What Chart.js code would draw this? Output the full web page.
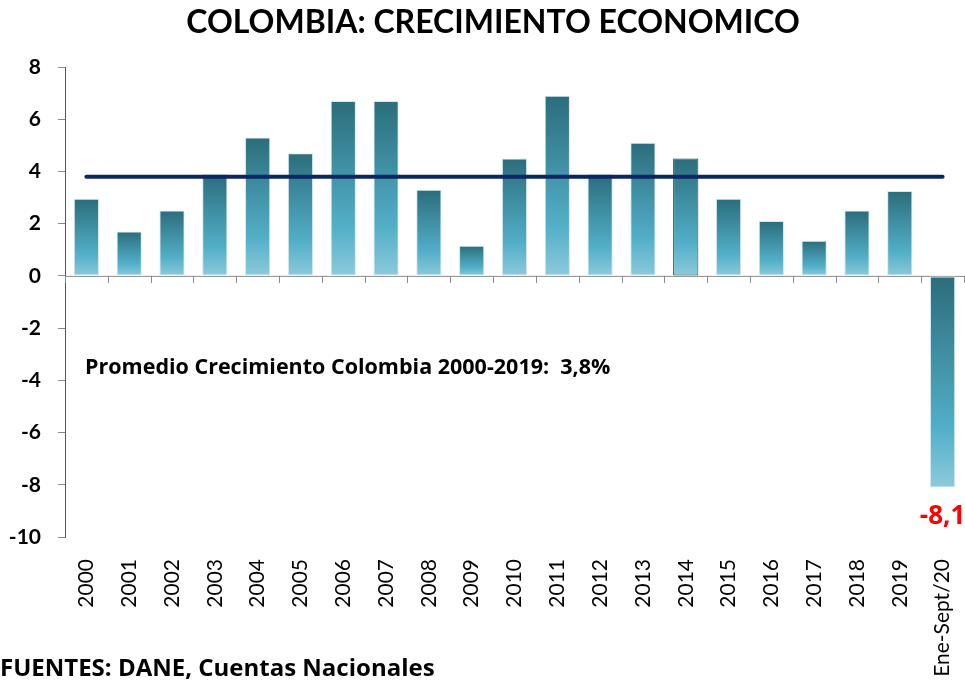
<!DOCTYPE html>
<html lang="es">
<head>
  <meta charset="UTF-8">
  <title>Colombia: Crecimiento Economico</title>
  <script src="https://cdn.jsdelivr.net/npm/chart.js"></script>
  <style>
    body { margin: 0; background: #fff; }
    #wrap { width: 965px; height: 681px; position: relative; }
  </style>
</head>
<body>
  <div id="wrap"><canvas id="grafico"></canvas></div>

  <script>
    // Datos
    const anios = ['2000', '2001', '2002', '2003', '2004', '2005', '2006', '2007', '2008', '2009',
                   '2010', '2011', '2012', '2013', '2014', '2015', '2016', '2017', '2018', '2019', 'Ene-Sept/20'];
    const crecimiento = [2.95, 1.7, 2.5, 3.9, 5.3, 4.7, 6.7, 6.7, 3.3, 1.15,
                         4.5, 6.9, 3.9, 5.1, 4.5, 2.95, 2.1, 1.35, 2.5, 3.25, -8.1];
    const promedio = [3.8, 3.8, 3.8, 3.8, 3.8, 3.8, 3.8, 3.8, 3.8, 3.8,
                      3.8, 3.8, 3.8, 3.8, 3.8, 3.8, 3.8, 3.8, 3.8, 3.8, 3.8];
    const ticksY = [8, 6, 4, 2, 0, -2, -4, -6, -8, -10];

    const fuente = 'Lato, "Open Sans", sans-serif';
    const fuenteNotas = '"Open Sans", Lato, sans-serif';

    // degradado vertical por barra (oscuro arriba, claro abajo)
    function rellenoBarra(ctx) {
      const chart = ctx.chart;
      const y = chart.scales.y;
      if (!y || ctx.raw === undefined) return '#4a9fb5';
      const p0 = y.getPixelForValue(0);
      const p1 = y.getPixelForValue(ctx.raw);
      const arriba = Math.min(p0, p1), abajo = Math.max(p0, p1);
      if (!isFinite(arriba) || abajo - arriba < 1) return '#4a9fb5';
      const g = chart.ctx.createLinearGradient(0, arriba, 0, abajo);
      g.addColorStop(0, '#2b6d7b');
      g.addColorStop(0.72, '#52afc8');
      g.addColorStop(1, '#8ccadb');
      return g;
    }

    // titulo, eje en cero con marcas, textos sueltos
    const extras = {
      id: 'extras',
      beforeDatasetsDraw(chart) {
        const c = chart.ctx, x = chart.scales.x, y = chart.scales.y;
        const y0 = y.getPixelForValue(0);
        const paso = x.getPixelForValue(1) - x.getPixelForValue(0);
        c.save();
        c.strokeStyle = '#8a8a8a';
        c.lineWidth = 1;
        c.beginPath();
        c.moveTo(chart.chartArea.left, y0 + 0.5);
        c.lineTo(chart.chartArea.right, y0 + 0.5);
        for (let i = 0; i <= anios.length; i++) {
          const px = Math.round(x.getPixelForValue(0) - paso / 2 + i * paso) + 0.5;
          c.moveTo(px, y0);
          c.lineTo(px, y0 + 7);
        }
        c.stroke();
        c.restore();
      },
      afterDraw(chart) {
        const c = chart.ctx, y = chart.scales.y;
        c.save();
        c.fillStyle = '#000';
        c.textBaseline = 'middle';
        c.textAlign = 'center';
        c.font = 'bold 32px ' + fuente;
        c.fillText('COLOMBIA: CRECIMIENTO ECONOMICO', 493, 23);

        c.textAlign = 'left';
        c.font = 'bold 21.5px ' + fuenteNotas;
        c.fillText('Promedio Crecimiento Colombia 2000-2019:  3,8%', chart.chartArea.left + 20, y.getPixelForValue(-3.52));

        const ultima = chart.getDatasetMeta(1).data[anios.length - 1];
        c.fillStyle = '#ff0000';
        c.textAlign = 'center';
        c.font = 'bold 26px ' + fuenteNotas;
        c.fillText('-8,1', ultima.x, ultima.y + 29);

        c.fillStyle = '#000';
        c.textAlign = 'left';
        c.font = 'bold 24px ' + fuenteNotas;
        c.fillText('FUENTES: DANE, Cuentas Nacionales', 0, 669);
        c.restore();
      }
    };

    new Chart(document.getElementById('grafico'), {
      data: {
        labels: anios,
        datasets: [
          {
            type: 'line',
            label: 'Promedio 2000-2019',
            data: promedio,
            borderColor: '#0b2663',
            borderWidth: 4,
            pointRadius: 0,
            borderCapStyle: 'round',
            order: 0
          },
          {
            type: 'bar',
            label: 'Crecimiento PIB',
            data: crecimiento,
            backgroundColor: rellenoBarra,
            borderColor: anios.map(a => a === '2014' ? '#1c4e5b' : '#d3eaf1'),
            borderWidth: 1,
            borderSkipped: false,
            barPercentage: 0.59,
            categoryPercentage: 1,
            order: 1
          }
        ]
      },
      options: {
        responsive: true,
        maintainAspectRatio: false,
        animation: false,
        layout: { padding: { top: 67, right: 1, bottom: 0, left: 0 } },
        plugins: {
          legend: { display: false },
          tooltip: { enabled: false },
          title: { display: false }
        },
        scales: {
          x: {
            offset: true,
            grid: { display: false, drawTicks: false },
            border: { display: false },
            ticks: {
              autoSkip: false,
              minRotation: 90,
              maxRotation: 90,
              padding: 22,
              color: '#000',
              font: { family: fuente, size: 21 }
            },
            afterFit(s) {
              s.height = 144;
              s.paddingLeft = 0;
              s.paddingRight = 0;
            }
          },
          y: {
            min: -10,
            max: 8,
            afterBuildTicks(s) { s.ticks = ticksY.map(v => ({ value: v })); },
            grid: { drawOnChartArea: false, drawTicks: true, tickLength: 7, color: '#8a8a8a' },
            border: { display: true, color: '#555', width: 1 },
            ticks: {
              padding: 17,
              color: '#000',
              font: { family: fuente, size: 21, weight: 'bold' }
            },
            afterFit(s) { s.width = 65; }
          }
        }
      },
      plugins: [extras]
    });
  </script>
</body>
</html>
